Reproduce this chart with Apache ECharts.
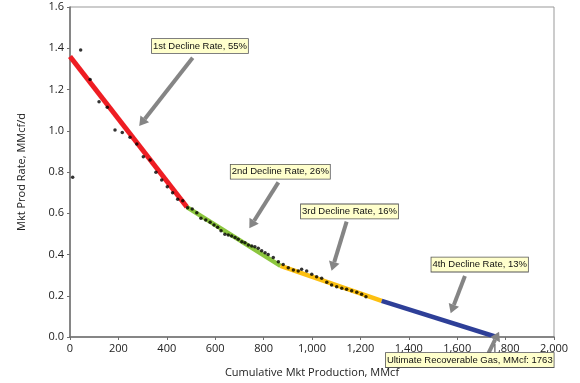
<!DOCTYPE html>
<html><head><meta charset="utf-8">
<script src="https://cdn.jsdelivr.net/npm/echarts@6/dist/echarts.min.js"></script>
<style>html,body{margin:0;padding:0;background:#fff}#c{width:580px;height:383px}</style>
</head><body><div id="c"></div>
<script>
// Observed data points: cumulative production (MMcf) and rate (MMcf/d)
const cumProd = [11,44,83,120,154,186,216,248,276,303,331,355,379,402,424,445,466,486,505,524,541,561,579,595,610,624,640,654,668,682,695,710,723,737,751,764,778,792,806,819,840,861,881,902,923,943,957,978,999,1019,1040,1061,1081,1102,1123,1143,1164,1185,1205,1223];
const prodRate = [0.774,1.392,1.249,1.141,1.114,1.004,0.992,0.968,0.936,0.874,0.858,0.799,0.761,0.729,0.700,0.668,0.661,0.627,0.621,0.603,0.576,0.567,0.556,0.543,0.532,0.515,0.498,0.495,0.490,0.483,0.474,0.462,0.457,0.446,0.441,0.438,0.430,0.418,0.409,0.400,0.385,0.365,0.352,0.336,0.325,0.320,0.328,0.320,0.304,0.292,0.285,0.265,0.252,0.244,0.236,0.231,0.224,0.217,0.207,0.195];
// Decline trend segments [cum, rate]
const decline1 = [[0,1.36],[483,0.63]];
const decline2 = [[483,0.63],[870,0.345]];
const decline3 = [[870,0.345],[1288,0.175]];
const decline4 = [[1288,0.175],[1763,0]];
const annotationTexts = ['1st Decline Rate, 55%','2nd Decline Rate, 26%','3rd Decline Rate, 16%','4th Decline Rate, 13%','Ultimate Recoverable Gas, MMcf: 1763'];

// annotation anchors in data space
const annotationAnchors = [
  {box:[537,1.411], from:[507,1.354], to:[286,1.023]},
  {box:[869,0.801], from:[861,0.750], to:[741,0.527]},
  {box:[1155,0.609], from:[1143,0.559], to:[1081,0.321]},
  {box:[1693,0.351], from:[1632,0.296], to:[1573,0.115]},
  {box:[1652,-0.112], from:[1729,-0.079], to:[1773,0.026]}
];

const chart = echarts.init(document.getElementById('c'), null, {renderer:'canvas'});
const FONT = '"Open Sans", "DejaVu Sans", sans-serif';
const lineSeries = (d, color, w) => ({type:'line', data:d, symbol:'none', silent:true, z:2,
  lineStyle:{color:color, width:w, cap:'butt'}});
chart.setOption({
  backgroundColor:'#fff',
  animation:false,
  grid:{left:70, right:26, top:7, bottom:46, show:true, borderColor:'#999', borderWidth:1},
  xAxis:{type:'value', min:0, max:2000, interval:200,
    name:'Cumulative Mkt Production, MMcf', nameLocation:'middle', nameGap:30,
    nameTextStyle:{fontFamily:FONT, fontSize:11, color:'#222'},
    axisLine:{show:true, lineStyle:{color:'#6f6f6f', width:1.5}},
    axisTick:{show:true, length:3, lineStyle:{color:'#6f6f6f'}},
    splitLine:{show:false},
    axisLabel:{fontFamily:FONT, fontSize:11, color:'#222', margin:6,
      formatter:v=>v.toLocaleString('en-US')}},
  yAxis:{type:'value', min:0, max:1.6, interval:0.2,
    name:'Mkt Prod Rate, MMcf/d', nameLocation:'middle', nameGap:43,
    nameTextStyle:{fontFamily:FONT, fontSize:11, color:'#222'},
    axisLine:{show:true, lineStyle:{color:'#6f6f6f', width:1.5}},
    axisTick:{show:true, length:3, lineStyle:{color:'#6f6f6f'}},
    splitLine:{show:false},
    axisLabel:{fontFamily:FONT, fontSize:11, color:'#222', margin:6,
      formatter:v=>v.toFixed(1)}},
  series:[
    lineSeries(decline1,'#ee1d23',5),
    lineSeries(decline2,'#8cc63e',4.5),
    lineSeries(decline3,'#fdc010',4.5),
    lineSeries(decline4,'#2e3f98',4.5),
    {type:'scatter', data:cumProd.map((x,i)=>[x,prodRate[i]]), symbol:'circle', symbolSize:3.5,
      itemStyle:{color:'#000'}, z:5, silent:true}
  ]
});

const toPx = p => chart.convertToPixel({gridIndex:0}, p);
const g = [];
annotationAnchors.forEach((a,i)=>{
  const s = toPx(a.from), t = toPx(a.to);
  const dx=t[0]-s[0], dy=t[1]-s[1], len=Math.hypot(dx,dy);
  const ux=dx/len, uy=dy/len, nx=-uy, ny=ux;
  const L=9, W=5.5;
  const bx=t[0]-ux*L, by=t[1]-uy*L;
  g.push({type:'polyline', shape:{points:[s,[bx,by]]}, style:{stroke:'#858585', lineWidth:4, fill:null}, z:10});
  g.push({type:'polygon', shape:{points:[t,[bx+nx*W,by+ny*W],[bx-nx*W,by-ny*W]]}, style:{fill:'#858585'}, z:10});
  const b = toPx(a.box);
  g.push({type:'text', x:b[0], y:b[1], z:11, style:{text:annotationTexts[i], align:'center', verticalAlign:'middle',
    font:'9.5px "Liberation Sans", Arial, sans-serif', fill:'#111', backgroundColor:'#ffffcc',
    borderColor:'#555', borderWidth:0.8, padding:[2,1,2,1]}});
});
chart.setOption({graphic:g});
</script>
</body></html>
